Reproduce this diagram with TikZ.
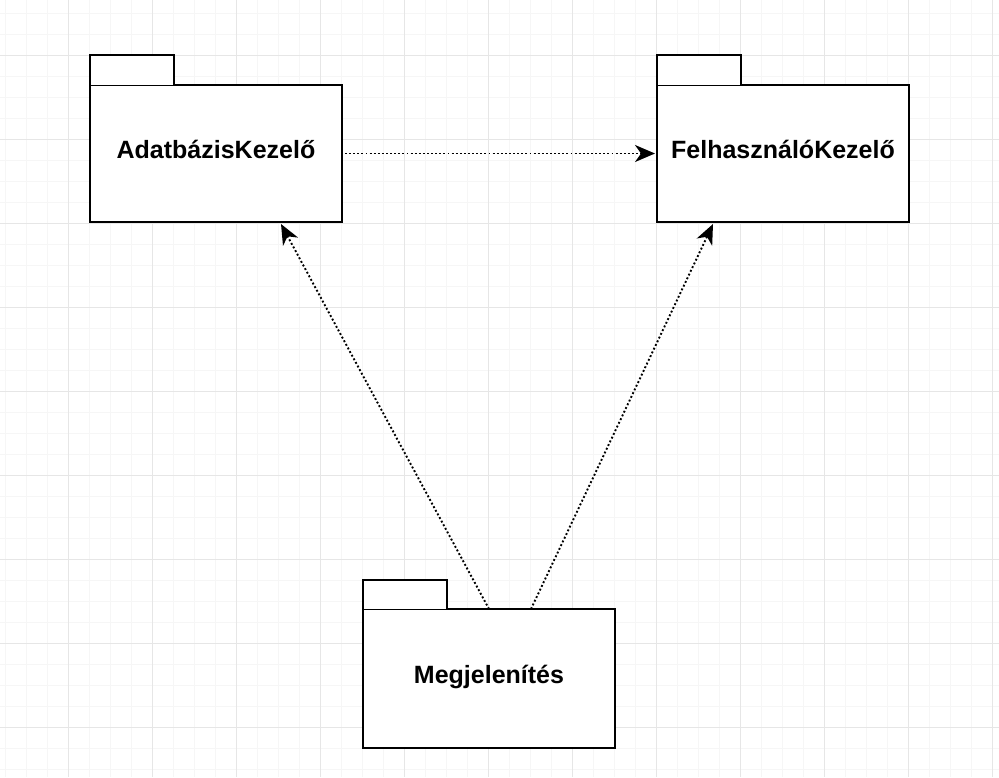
\documentclass[tikz,border=0pt]{standalone}
\usepackage{fontspec}
\setmainfont{Liberation Sans}
\usetikzlibrary{arrows.meta,calc}
\definecolor{gridminor}{HTML}{F6F6F6}
\definecolor{gridmajor}{HTML}{E6E6E6}
\tikzset{
  pkgbody/.style={draw=black, line width=2.5pt, fill=white, minimum width=252pt, minimum height=137pt, inner sep=0pt, outer sep=0pt, font=\fontsize{25}{30}\selectfont\bfseries, text height=15pt, text depth=6pt},
  pkgtab/.style={draw=black, line width=2.5pt, fill=white},
  dep/.style={line width=1.9pt, dash pattern=on 1.9pt off 2.2pt, -{Stealth[length=20pt,width=17pt,inset=6pt]}},
  gminor/.style={draw=gridminor, line width=1pt},
  gmajor/.style={draw=gridmajor, line width=1pt}
}
\begin{document}
\begin{tikzpicture}[x=1pt,y=-1pt]
\useasboundingbox (0,0) rectangle (999,777);
\fill[white] (0,0) rectangle (999,777);
% grid
\foreach \i in {0,...,47} {\draw[gminor] ({5+21*\i},0) -- ({5+21*\i},777);}
\foreach \i in {0,...,37} {\draw[gminor] (0,{13+21*\i}) -- (999,{13+21*\i});}
\foreach \i in {0,...,11} {\draw[gmajor] ({68+84*\i},0) -- ({68+84*\i},777);}
\foreach \i in {0,...,9} {\draw[gmajor] (0,{55+84*\i}) -- (999,{55+84*\i});}
% packages
\node[pkgbody] (ab) at (216,153.5) {AdatbázisKezelő};
\draw[pkgtab] (ab.north west) -- ++(0,-30) -- ++(84,0) -- ++(0,30);
\node[pkgbody] (fk) at (783,153.5) {FelhasználóKezelő};
\draw[pkgtab] (fk.north west) -- ++(0,-30) -- ++(84,0) -- ++(0,30);
\node[pkgbody, minimum height=139pt] (mj) at (489,678.5) {Megjelenítés};
\draw[pkgtab] (mj.north west) -- ++(0,-29) -- ++(84,0) -- ++(0,29);
% dependencies
\coordinate (abin) at ($(ab.south)+(65,2)$);
\coordinate (fkin) at ($(fk.south)+(-70,2)$);
\coordinate (mjout) at ($(mj.north)+(42,0)$);
\draw[dep] ($(ab.east)+(3,0)$) -- ($(fk.west)+(-2,0)$);
\draw[dep] (mj.north) -- (abin);
\draw[dep] (mjout) -- (fkin);
\end{tikzpicture}
\end{document}
